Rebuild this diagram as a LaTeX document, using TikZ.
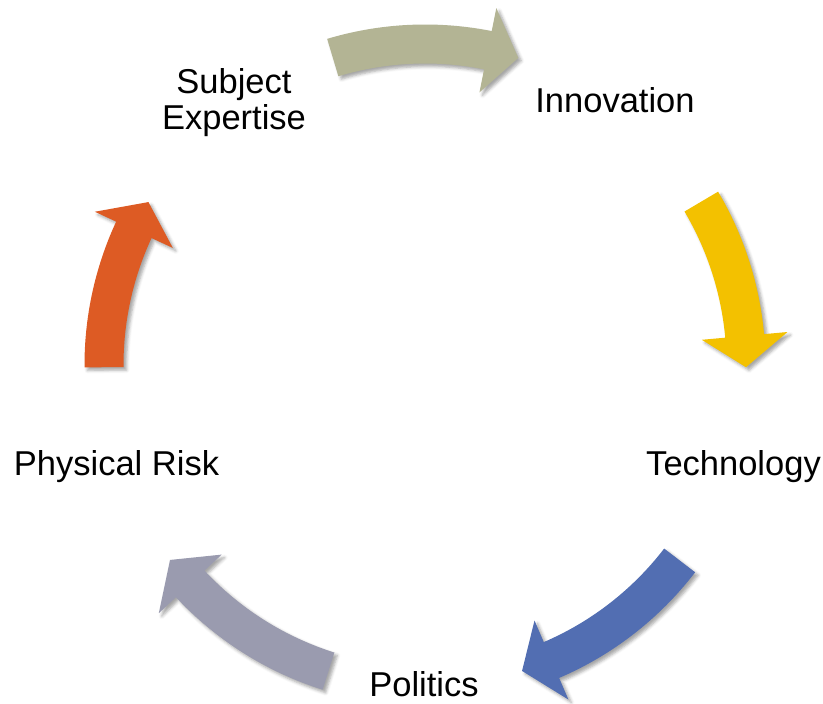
\documentclass[tikz,border=0pt]{standalone}
\usepackage{xcolor}
\usepackage{fontspec}
\setmainfont{Liberation Sans}
\usepackage{tikz}
\usetikzlibrary{shadows.blur}

\definecolor{olivegray}{HTML}{B3B494}
\definecolor{gold}{HTML}{F3C100}
\definecolor{steelblue}{HTML}{526EB2}
\definecolor{lavgray}{HTML}{9A9BAF}
\definecolor{rust}{HTML}{DD5B24}

\tikzset{labeltext/.style={font=\fontsize{34.5}{36}\selectfont, inner sep=0pt},
  cyclearrow/.style={fill=#1, blur shadow={shadow xshift=3pt, shadow yshift=-3pt, shadow blur radius=3pt, shadow opacity=35}}}

\begin{document}
\begin{tikzpicture}[x=1pt,y=1pt]
\useasboundingbox (0,0) rectangle (823,704);
\coordinate (o) at (425,339);
% labels round the cycle
\node [labeltext, align=center] (subj) at (234,601.5) {Subject\\Expertise};
\node [labeltext, anchor=base] (innov) at (615,591) {Innovation};
\node [labeltext, anchor=base] (tech) at (733.5,228) {Technology};
\node [labeltext, anchor=base] (risk) at (116.5,228) {Physical Risk};
\node [labeltext, anchor=base] (pol) at (424,7) {Politics};
% curved arrows: tail angle / tip angle / colour
\foreach \a/\b/\c in {106.7/73.1/olivegray, 30.6/-0.4/gold, -37.5/-72.4/steelblue, -107.5/-142.6/lavgray, 180.4/149.5/rust}
{
  \pgfmathsetmacro\h{\b+5.6}
  \fill [cyclearrow=\c, shift={(o)}] (\a:340.5) arc [start angle=\a, end angle=\h, radius=340.5] -- (\h:364) -- (\b:321) -- (\h:278) -- (\h:301.5) arc [start angle=\h, end angle=\a, radius=301.5] -- cycle;
}
\end{tikzpicture}
\end{document}
